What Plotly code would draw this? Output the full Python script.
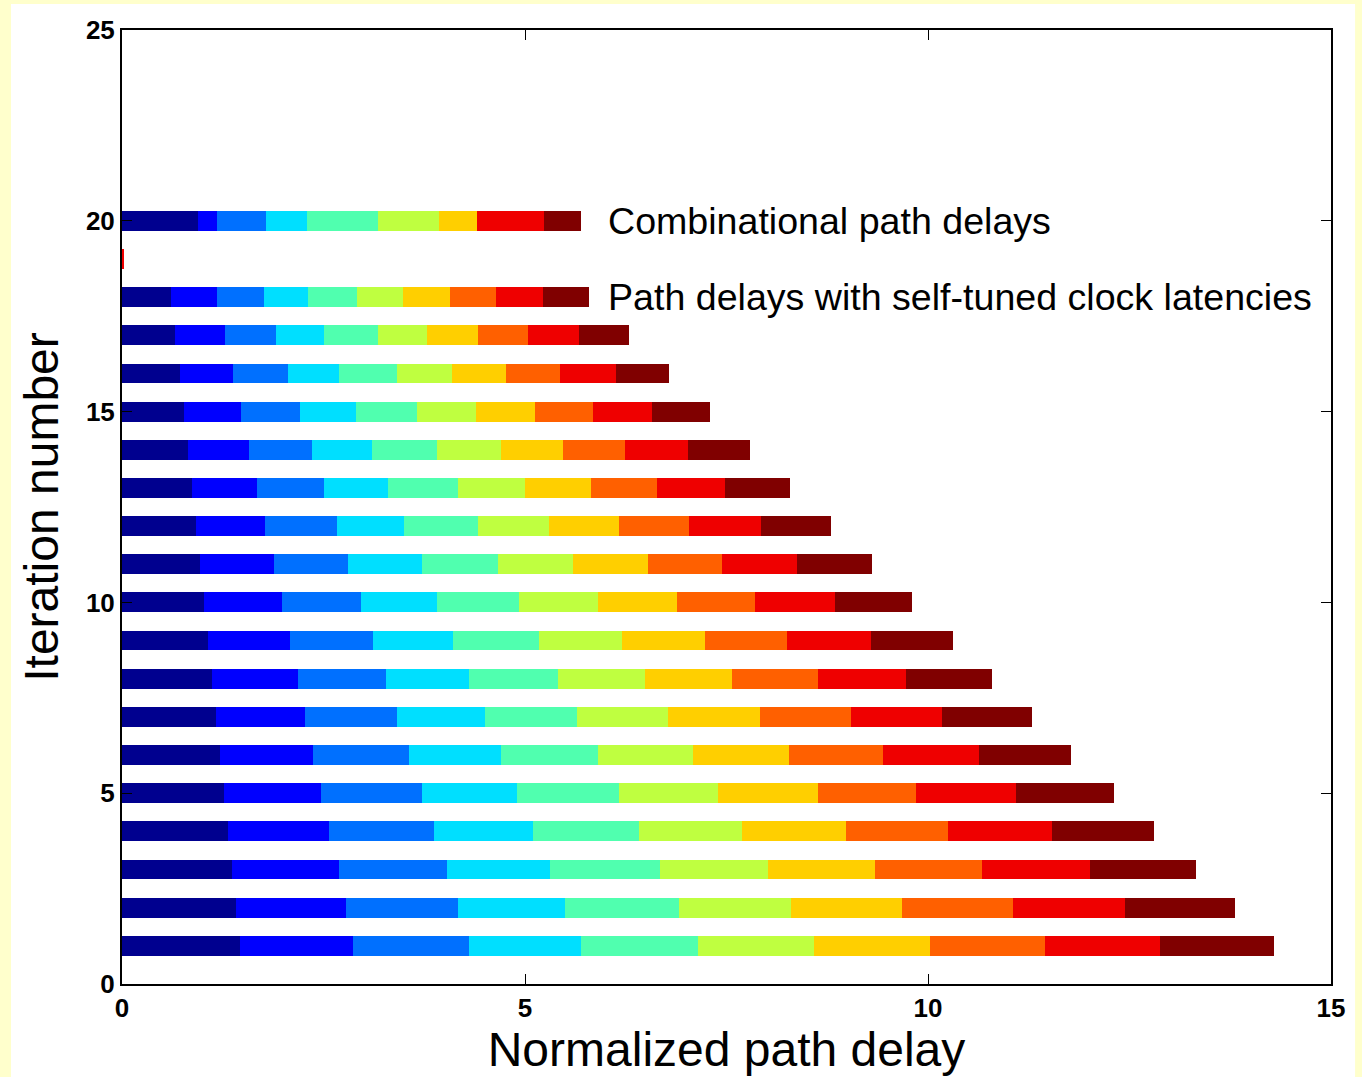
import plotly.graph_objects as go

# Iterations 1..20 (row 19 is almost empty, row 20 = combinational path delays)
iterations = list(range(1, 21))

seg_navy = [1.46, 1.41, 1.37, 1.32, 1.27, 1.22, 1.17, 1.12, 1.07, 1.02, 0.97, 0.92, 0.87, 0.82, 0.77, 0.72, 0.66, 0.61, 0, 0.94]
seg_blue = [1.41, 1.37, 1.32, 1.25, 1.20, 1.15, 1.10, 1.06, 1.01, 0.96, 0.91, 0.86, 0.81, 0.76, 0.71, 0.66, 0.62, 0.57, 0, 0.24]
seg_azure = [1.44, 1.39, 1.34, 1.30, 1.25, 1.19, 1.14, 1.09, 1.04, 0.99, 0.93, 0.89, 0.83, 0.78, 0.73, 0.68, 0.63, 0.58, 0, 0.61]
seg_cyan = [1.39, 1.33, 1.28, 1.23, 1.18, 1.14, 1.09, 1.04, 0.99, 0.94, 0.91, 0.83, 0.79, 0.74, 0.69, 0.63, 0.60, 0.55, 0, 0.50]
seg_aqua = [1.45, 1.41, 1.37, 1.32, 1.27, 1.20, 1.15, 1.10, 1.06, 1.01, 0.94, 0.92, 0.87, 0.81, 0.76, 0.72, 0.66, 0.60, 0, 0.88]
seg_lime = [1.44, 1.39, 1.33, 1.27, 1.22, 1.18, 1.13, 1.08, 1.03, 0.98, 0.94, 0.88, 0.83, 0.79, 0.73, 0.68, 0.62, 0.58, 0, 0.76]
seg_gold = [1.43, 1.38, 1.33, 1.29, 1.24, 1.19, 1.14, 1.08, 1.03, 0.98, 0.93, 0.87, 0.82, 0.77, 0.73, 0.68, 0.63, 0.58, 0, 0.47]
seg_orange = [1.43, 1.37, 1.33, 1.27, 1.22, 1.17, 1.12, 1.07, 1.02, 0.97, 0.92, 0.87, 0.82, 0.77, 0.72, 0.66, 0.62, 0.57, 0, 0]
seg_red = [1.43, 1.39, 1.34, 1.29, 1.24, 1.19, 1.13, 1.09, 1.04, 0.99, 0.93, 0.89, 0.84, 0.78, 0.73, 0.70, 0.63, 0.58, 0.015, 0.83]
seg_darkred = [1.41, 1.37, 1.32, 1.27, 1.22, 1.15, 1.12, 1.07, 1.02, 0.96, 0.92, 0.87, 0.81, 0.77, 0.72, 0.66, 0.62, 0.57, 0, 0.46]

segments = [seg_navy, seg_blue, seg_azure, seg_cyan, seg_aqua,
            seg_lime, seg_gold, seg_orange, seg_red, seg_darkred]
colors = ["#00008F", "#0000FF", "#0070FF", "#00DFFF", "#50FFAF",
          "#BFFF40", "#FFCF00", "#FF6000", "#EF0000", "#800000"]

x_ticks = [0, 5, 10, 15]
y_ticks = [0, 5, 10, 15, 20, 25]
label_combinational = "Combinational path delays"
label_tuned = "Path delays with self-tuned clock latencies"

FONT = "Liberation Sans, Arial, Helvetica, sans-serif"

fig = go.Figure()
for vals, col in zip(segments, colors):
    fig.add_trace(go.Bar(
        x=vals, y=iterations, orientation="h", width=0.52,
        marker=dict(color=col, line=dict(width=0)),
        showlegend=False, hoverinfo="x+y",
    ))

fig.add_annotation(x=6.0, y=20, xref="x", yref="y", text=label_combinational,
                   showarrow=False, xanchor="left", yanchor="middle",
                   font=dict(family=FONT, size=37.6, color="black"))
fig.add_annotation(x=6.0, y=18, xref="x", yref="y", text=label_tuned,
                   showarrow=False, xanchor="left", yanchor="middle",
                   font=dict(family=FONT, size=37.6, color="black"))

# white page area over a pale-yellow frame
fig.add_shape(type="rect", xref="paper", yref="paper",
              x0=-0.0918, x1=1.0199, y0=-0.0975, y1=1.0273,
              fillcolor="white", line=dict(width=0), layer="below")

TICKFONT = dict(family=FONT, size=26, color="black", weight="bold")

fig.update_layout(
    width=1362, height=1077,
    margin=dict(l=122, r=31, t=30, b=93),
    paper_bgcolor="#FFFFCC", plot_bgcolor="white",
    barmode="stack",
    font=dict(family=FONT, color="black"),
    xaxis=dict(
        range=[0, 15], tickvals=x_ticks, ticks="inside", ticklen=10,
        tickwidth=1, tickcolor="black", showline=True, linecolor="black",
        linewidth=2, mirror="ticks", showgrid=False, zeroline=False,
        tickfont=TICKFONT,
        title=dict(text="Normalized path delay",
                   font=dict(family=FONT, size=48, color="black"), standoff=8),
    ),
    yaxis=dict(
        range=[0, 25], tickvals=y_ticks, ticks="inside", ticklen=10,
        tickwidth=1, tickcolor="black", showline=True, linecolor="black",
        linewidth=2, mirror="ticks", showgrid=False, zeroline=False,
        tickfont=TICKFONT,
        title=dict(text="Iteration number",
                   font=dict(family=FONT, size=48, color="black"), standoff=12),
    ),
)

fig.write_html("out.html")
